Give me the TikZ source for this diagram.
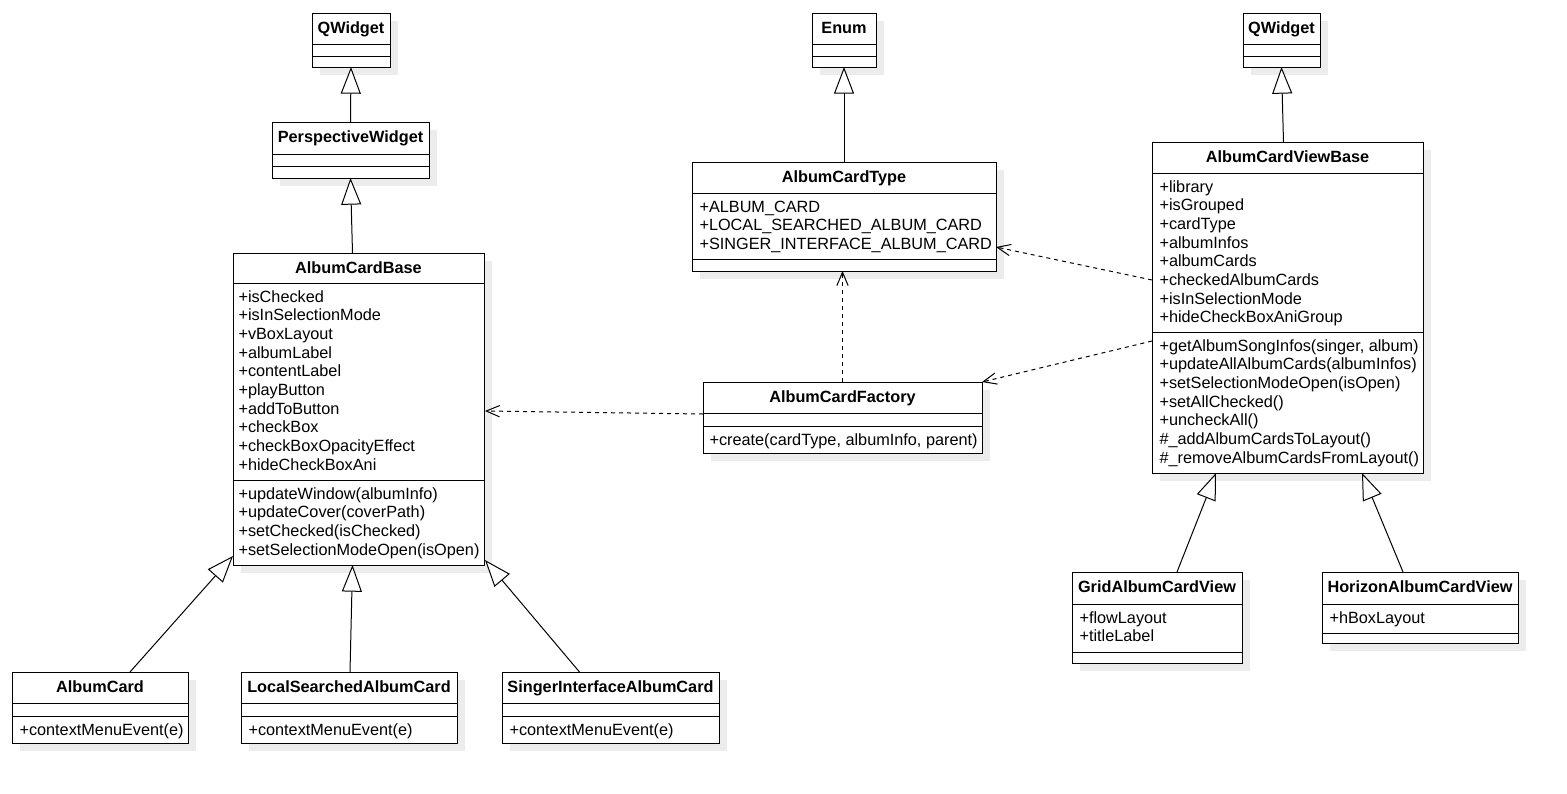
\documentclass[tikz,border=0pt]{standalone}
\usepackage{fontspec}
\setmainfont{Liberation Sans}
\usetikzlibrary{arrows.meta,fit,calc}
\definecolor{shadowc}{RGB}{236,236,236}
\newcommand\classframe[5]{%
  \fill[shadowc,shift={(8,8)}] (#2,#3) rectangle (#4,#5);
  \node[classbox,fit={(#2,#3)(#4,#5)}] (#1) {};
}
\begin{document}
\begin{tikzpicture}[x=0.75pt,y=-0.75pt,line width=0.75pt,
  classbox/.style={draw=black,fill=white,inner sep=0pt,outer sep=0pt,line width=0.75pt},
  ctitle/.style={font=\fontsize{12.2}{14}\selectfont\bfseries,inner sep=0pt,anchor=base},
  cmembers/.style={font=\fontsize{12.2}{14}\selectfont,inner sep=0pt,anchor=north west,align=left,yshift=1.1pt},
  inherit/.style={-{Triangle[length=20pt,width=15pt,fill=white]}},
  depend/.style={dash pattern=on 3pt off 3pt,-{Straight Barb[length=10pt,width=8.5pt]}},
]
\fill[white] (0,0) rectangle (1567,793);
\useasboundingbox (0,0) rectangle (1567,793);

% ---------- QWidget (left)
\classframe{qw1}{312}{13}{390}{67}
\draw (312,44) -- (390,44) (312,56) -- (390,56);
\node[ctitle] (qw1-t) at (351,33) {QWidget};

% ---------- PerspectiveWidget
\classframe{pw}{272}{122}{429}{178}
\draw (272,154) -- (429,154) (272,166) -- (429,166);
\node[ctitle] (pw-t) at (350.5,142) {PerspectiveWidget};

% ---------- AlbumCardBase
\classframe{acb}{233}{253}{484}{565}
\draw (233,283) -- (484,283) (233,480) -- (484,480);
\node[ctitle] (acb-t) at (358.5,273) {AlbumCardBase};
\node[cmembers] (acb-a) at (238,289.93) {\strut+isChecked\\+isInSelectionMode\\+vBoxLayout\\+albumLabel\\+contentLabel\\+playButton\\+addToButton\\+checkBox\\+checkBoxOpacityEffect\\+hideCheckBoxAni};
\node[cmembers] (acb-m) at (238,486.93) {\strut+updateWindow(albumInfo)\\+updateCover(coverPath)\\+setChecked(isChecked)\\+setSelectionModeOpen(isOpen)};

% ---------- Enum
\classframe{enum}{812}{13}{876}{67}
\draw (812,44) -- (876,44) (812,56) -- (876,56);
\node[ctitle] (enum-t) at (844,33) {Enum};

% ---------- AlbumCardType
\classframe{act}{692}{162}{996}{271}
\draw (692,193) -- (996,193) (692,259) -- (996,259);
\node[ctitle] (act-t) at (844,182) {AlbumCardType};
\node[cmembers] (act-a) at (699,199.93) {\strut+ALBUM\_CARD\\+LOCAL\_SEARCHED\_ALBUM\_CARD\\+SINGER\_INTERFACE\_ALBUM\_CARD};

% ---------- AlbumCardFactory
\classframe{acf}{703}{382}{982}{453}
\draw (703,413) -- (982,413) (703,426) -- (982,426);
\node[ctitle] (acf-t) at (842.5,402) {AlbumCardFactory};
\node[cmembers] (acf-m) at (709,432.93) {\strut+create(cardType, albumInfo, parent)};

% ---------- QWidget (right)
\classframe{qw2}{1243}{13}{1320}{67}
\draw (1243,44) -- (1320,44) (1243,56) -- (1320,56);
\node[ctitle] (qw2-t) at (1281.5,33) {QWidget};

% ---------- AlbumCardViewBase
\classframe{avb}{1152}{142}{1423}{473}
\draw (1152,173) -- (1423,173) (1152,332) -- (1423,332);
\node[ctitle] (avb-t) at (1287.5,162) {AlbumCardViewBase};
\node[cmembers] (avb-a) at (1159,179.93) {\strut+library\\+isGrouped\\+cardType\\+albumInfos\\+albumCards\\+checkedAlbumCards\\+isInSelectionMode\\+hideCheckBoxAniGroup};
\node[cmembers] (avb-m) at (1159,338.93) {\strut+getAlbumSongInfos(singer, album)\\+updateAllAlbumCards(albumInfos)\\+setSelectionModeOpen(isOpen)\\+setAllChecked()\\+uncheckAll()\\\#\_addAlbumCardsToLayout()\\\#\_removeAlbumCardsFromLayout()};

% ---------- GridAlbumCardView
\classframe{gacv}{1072}{572}{1242}{663}
\draw (1072,604) -- (1242,604) (1072,652) -- (1242,652);
\node[ctitle] (gacv-t) at (1157,592) {GridAlbumCardView};
\node[cmembers] (gacv-a) at (1079,610.93) {\strut+flowLayout\\+titleLabel};

% ---------- HorizonAlbumCardView
\classframe{hacv}{1322}{572}{1518}{643}
\draw (1322,604) -- (1518,604) (1322,633) -- (1518,633);
\node[ctitle] (hacv-t) at (1420,592) {HorizonAlbumCardView};
\node[cmembers] (hacv-a) at (1329,610.93) {\strut+hBoxLayout};

% ---------- AlbumCard
\classframe{ac}{12}{672}{188}{743}
\draw (12,703) -- (188,703) (12,716) -- (188,716);
\node[ctitle] (ac-t) at (100,692) {AlbumCard};
\node[cmembers] (ac-m) at (19,722.93) {\strut+contextMenuEvent(e)};

% ---------- LocalSearchedAlbumCard
\classframe{lsac}{241}{672}{457}{743}
\draw (241,703) -- (457,703) (241,716) -- (457,716);
\node[ctitle] (lsac-t) at (349,692) {LocalSearchedAlbumCard};
\node[cmembers] (lsac-m) at (248,722.93) {\strut+contextMenuEvent(e)};

% ---------- SingerInterfaceAlbumCard
\classframe{siac}{502}{672}{719}{743}
\draw (502,703) -- (719,703) (502,716) -- (719,716);
\node[ctitle] (siac-t) at (610.5,692) {SingerInterfaceAlbumCard};
\node[cmembers] (siac-m) at (509,722.93) {\strut+contextMenuEvent(e)};

% ---------- generalization
\draw[inherit] (pw.north) -- (qw1.south);
\draw[inherit] ($(acb.north)+(-6,0)$) -- (pw.south);
\draw[inherit] (act.north) -- (enum.south);
\draw[inherit] ($(avb.north)+(-4,0)$) -- (qw2.south);
\draw[inherit] ($(ac.north)+(30,0)$) -- ($(acb.south west)+(0,-9)$);
\draw[inherit] ($(lsac.north)+(1,0)$) -- ($(acb.south)+(-6,0)$);
\draw[inherit] ($(siac.north)+(-31,0)$) -- ($(acb.south east)+(1,-5)$);
\draw[inherit] ($(gacv.north)+(20,0)$) -- ($(avb.south)+(-71.5,0)$);
\draw[inherit] ($(hacv.north)+(-17,0)$) -- ($(avb.south)+(74.5,0)$);

% ---------- dependencies
\draw[depend] (acf.north) -- (acf.north |- act.south);
\draw[depend] ($(acf.west)+(0,-3.5)$) -- ($(acb.east)+(1,2)$);
\draw[depend] ($(avb.west)+(0,-27.5)$) -- ($(act.east)+(0,30.5)$);
\draw[depend] ($(avb.west)+(0,33.5)$) -- (acf.north east);
\end{tikzpicture}
\end{document}
